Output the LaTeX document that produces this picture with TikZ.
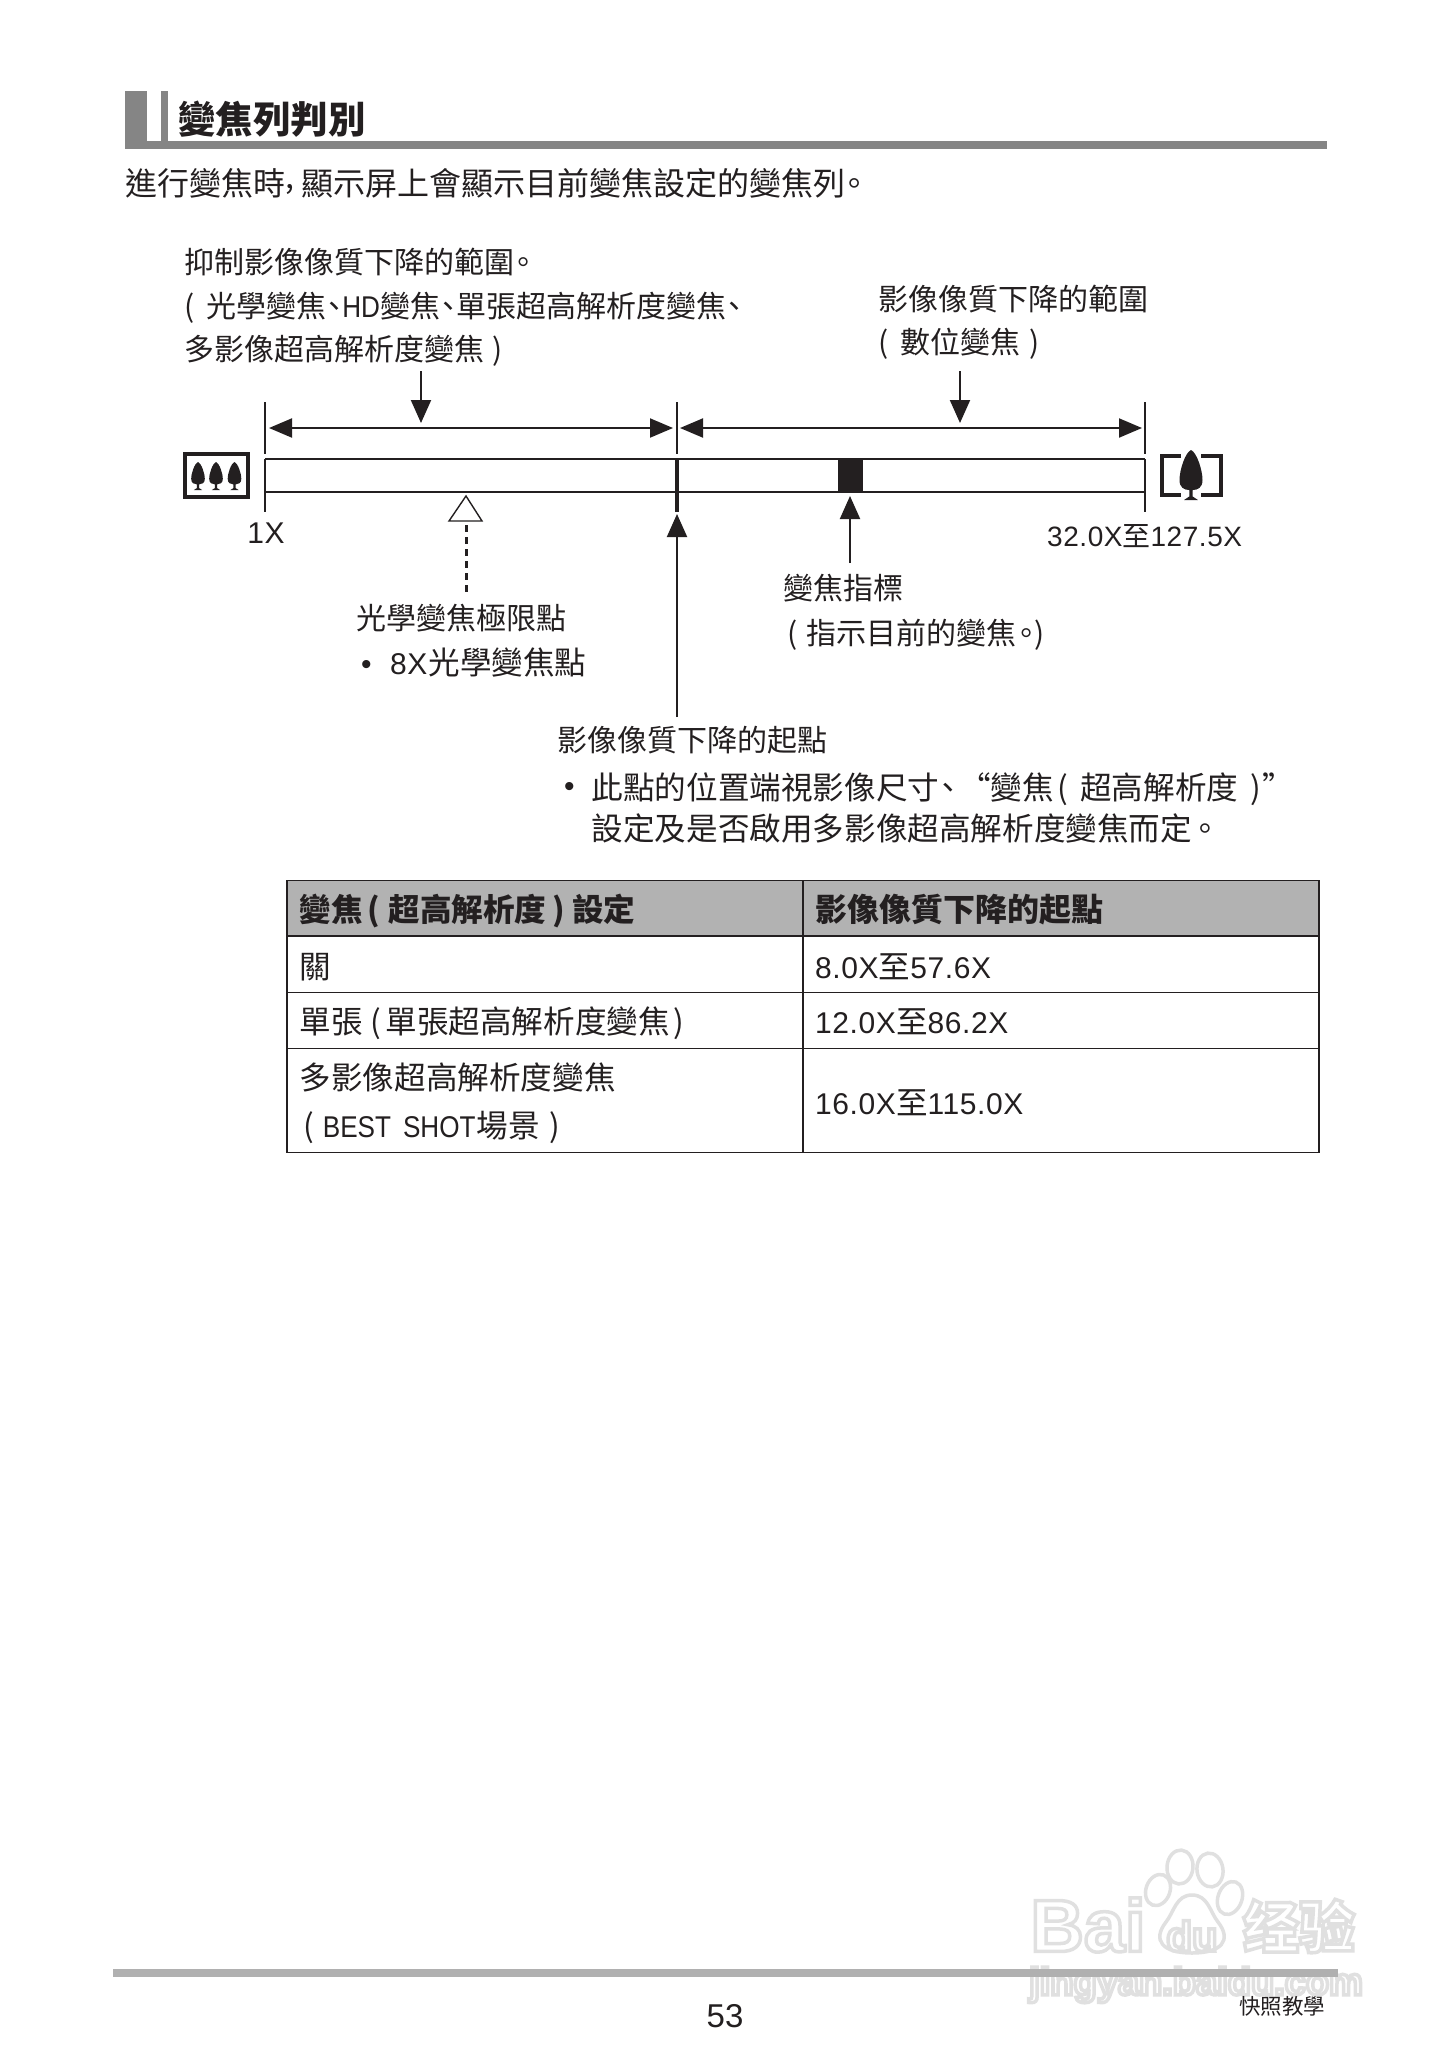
\documentclass[tikz,border=0pt]{standalone}
\usepackage{fontspec}
\usetikzlibrary{arrows.meta}
\setmainfont{Noto Sans CJK TC}
\newfontfamily\latinf{Liberation Sans}
\newcommand{\lat}[1]{{\latinf\addfontfeature{LetterSpace=2}\fontsize{30}{30}\selectfont #1}}
\newcommand{\latn}[1]{\scalebox{.87}[1]{\latinf\fontsize{30}{30}\selectfont #1}}
\newcommand{\dun}{\kern-7pt 、\kern-7pt }
\definecolor{barg}{HTML}{858585}
\definecolor{footg}{HTML}{B0B0B0}
\definecolor{headg}{HTML}{B2B2B2}
\definecolor{ink}{HTML}{231F20}
\newcommand{\treeshape}[4]{% cx, top, halfwidth, height
  \begin{scope}[shift={(#1,#2)},xscale=#3,yscale=#4]
  \fill[ink] (0,0) .. controls (.5,.05) and (1,.4) .. (1,.6) .. controls (1,.75) and (.6,.8) .. (.15,.8) -- (.15,.93) -- (.6,1) -- (-.6,1) -- (-.15,.93) -- (-.15,.8) .. controls (-.6,.8) and (-1,.75) .. (-1,.6) .. controls (-1,.4) and (-.5,.05) .. (0,0) -- cycle;
  \end{scope}}
\newcommand{\wmtxt}[5]{% name,x,y,font,text
  \node[anchor=center,inner sep=0,font=#4] (#1) at (#2,#3) {\special{pdf:code q 1 Tr 3.5 w 0.88 G}#5\special{pdf:code 0 Tr Q}};}
\tikzset{
  x=1pt,y=-1pt,
  lbl/.style={anchor=base west,inner sep=0,text=ink,font=\fontsize{30}{30}\selectfont},
  lblb/.style={anchor=base west,inner sep=0,text=ink,font=\fontsize{31.6}{31.6}\selectfont},
  dot/.style={anchor=base west,inner sep=0,text=ink,font=\latinf\fontsize{30}{30}\selectfont},
  body/.style={anchor=base west,inner sep=0,text=ink,font=\fontsize{32}{32}\selectfont},
  cellb/.style={anchor=base west,inner sep=0,text=ink,font=\fontsize{31.6}{31.6}\selectfont\bfseries},
  foot/.style={anchor=base west,inner sep=0,text=ink,font=\fontsize{21.5}{21.5}\selectfont},
  dim/.style={draw=ink,line width=2pt,{Triangle[length=23pt,width=19pt]}-{Triangle[length=23pt,width=19pt]}},
  point/.style={draw=ink,line width=2pt,-{Triangle[length=23pt,width=20pt]}},
  tick/.style={draw=ink,line width=1.6pt},
  tline/.style={draw=ink,line width=1.2pt},
  paw/.style={draw=black!12,line width=3.5pt,fill=white}
}
\begin{document}
\begin{tikzpicture}
\useasboundingbox (0,0) rectangle (1452,2064);
\fill[white] (0,0) rectangle (1452,2064);
% watermark
\foreach \cx/\cy/\rx/\ry/\r in {1158/1890/12/16/-20,1180/1867/13/17/-5,1210/1870/13/17/8,1230/1898/12/17/-20}
  \draw[paw,rotate around={\r:(\cx,\cy)}] (\cx,\cy) ellipse ({\rx pt} and {\ry pt});
\draw[paw] (1192,1895) .. controls (1208,1895) and (1210,1912) .. (1218,1922) .. controls (1232,1940) and (1222,1953) .. (1192,1953) .. controls (1162,1953) and (1152,1940) .. (1166,1922) .. controls (1174,1912) and (1176,1895) .. (1192,1895) -- cycle;
\wmtxt{wa}{1088}{1925}{\latinf\bfseries\fontsize{74}{74}\selectfont}{Bai}
\wmtxt{wb}{1192}{1936}{\latinf\bfseries\fontsize{42}{42}\selectfont}{du}
\wmtxt{wc}{1299}{1926}{\bfseries\fontsize{56}{56}\selectfont}{经验}
\wmtxt{wd}{1196}{1985}{\latinf\bfseries\fontsize{38}{38}\selectfont}{jingyan.baidu.com}
% heading
\fill[barg] (124.6,91) rectangle (147,149);
\fill[barg] (161,91) rectangle (168,149);
\fill[barg] (124.6,141) rectangle (1327,149);
\node[anchor=base west,inner sep=0,text=ink,font=\fontsize{37.5}{37.5}\selectfont\bfseries] (title) at (178,133) {變焦列判別};
\node[body] (intro) at (125,195) {進行變焦時\raisebox{7pt}{,}\hspace{7pt}顯示屏上會顯示目前變焦設定的變焦列\kern-7pt 。};
% upper labels
\node[lbl] (l1) at (184,273) {抑制影像像質下降的範圍\kern-6pt 。};
\node[lbl] (l2) at (184,317) {(\hspace{12pt}光學變焦\dun\latn{HD}變焦\dun 單張超高解析度變焦\dun};
\node[lbl] (l3) at (184,360) {多影像超高解析度變焦\hspace{2pt} )};
\node[lbl] (r1) at (878,310) {影像像質下降的範圍};
\node[lbl] (r2) at (878,353) {(\hspace{12pt}數位變焦\hspace{2pt} )};
% scale
\coordinate (a0) at (265,428); \coordinate (a1) at (677,428); \coordinate (a2) at (1145,428);
\draw[tick] (265,402) -- (265,454);
\draw[tick] (677,402) -- (677,454);
\draw[tick] (1145,402) -- (1145,454);
\draw[tick] (265,459) -- (265,512);
\draw[tick] (1145,459) -- (1145,512);
\draw[draw=ink,line width=2.4pt] (265,459) -- (1145,459) (265,492) -- (1145,492);
\draw[draw=ink,line width=3.6pt] (677,459) -- (677,512);
\fill[ink] (838,459) rectangle (863,492);
\draw[dim,shorten <=4pt,shorten >=4pt] (a0) -- (a1);
\draw[dim,shorten <=3pt,shorten >=3pt] (a1) -- (a2);
\coordinate (d1s) at (421,371); \coordinate (d1e) at (421,423);
\coordinate (d2s) at (960,371); \coordinate (d2e) at (960,423);
\draw[point] (d1s) -- (d1e);
\draw[point] (d2s) -- (d2e);
% icons
\draw[draw=ink,line width=4pt] (185,454) rectangle (248,497);
\treeshape{198}{462}{6.8}{28}
\treeshape{216}{462}{6.8}{28}
\treeshape{234.5}{462}{6.8}{28}
\draw[draw=ink,line width=3.6pt] (1181,456) -- (1162,456) -- (1162,495) -- (1181,495);
\draw[draw=ink,line width=3.6pt] (1201,456) -- (1221,456) -- (1221,495) -- (1201,495);
\treeshape{1191}{450}{11.5}{50}
% scale labels
\node[lbl,anchor=base] (x1) at (266,543) {\lat{1X}};
\node[lbl,font=\latinf\fontsize{28}{28}\selectfont] (x2) at (1047,546) {\addfontfeature{LetterSpace=2}32.0X{\normalfont\fontsize{28}{28}\selectfont 至}127.5X};
% optical limit
\coordinate (tri) at (466,496);
\draw[draw=ink,line width=1.4pt,fill=white] (tri) -- (482,521) -- (449,521) -- cycle;
\coordinate (ds) at (466,525); \coordinate (de) at (466,593);
\draw[draw=ink,line width=3pt,dash pattern=on 7pt off 5pt] (ds) -- (de);
\node[lbl] (o1) at (356,629) {光學變焦極限點};
\node[dot] (ob) at (361,674) {•};
\node[lblb] (o2) at (390,674) {\lat{8X}\hspace{1pt}光學變焦點};
% indicator
\coordinate (i1) at (850,563); \coordinate (i2) at (850,496);
\draw[point] (i1) -- (i2);
\node[lbl] (z1) at (783,599) {變焦指標};
\node[lbl] (z2) at (787,644) {(\hspace{9pt}指示目前的變焦\kern-5pt 。\kern-7pt )};
% degrade start
\coordinate (s1) at (677,717); \coordinate (s2) at (677,514);
\draw[point] (s1) -- (s2);
\node[lbl] (q1) at (557,751) {影像像質下降的起點};
\node[dot] (qb) at (564,796) {•};
\node[lblb] (q2) at (591.5,799) {此點的位置端視影像尺寸\kern-7pt 、\kern-4pt “\kern-1pt 變焦\hspace{4pt}(\hspace{12pt}超高解析度\hspace{12pt})\kern1pt ”};
\node[lblb] (q3) at (591.5,840) {設定及是否啟用多影像超高解析度變焦而定\kern-3pt 。};
% table
\fill[headg] (287,880.5) rectangle (1319,936);
\draw[tline] (287,880.5) rectangle (1319,1152.5);
\draw[tline] (287,936) -- (1319,936) (287,992.5) -- (1319,992.5) (287,1048.5) -- (1319,1048.5) (803,880.5) -- (803,1152.5);
\node[cellb] (h1) at (299.5,921) {變焦\hspace{5pt}(\hspace{8pt}超高解析度\hspace{6pt})\hspace{7pt}設定};
\node[cellb,font=\fontsize{32}{32}\selectfont\bfseries] (h2) at (815,921) {影像像質下降的起點};
\node[lblb] (c1) at (299.5,978) {關};
\node[lblb] (c2) at (815,978) {\lat{8.0X}至\lat{57.6X}};
\node[lblb] (c3) at (299.5,1033) {單張\hspace{8pt}(\hspace{4pt}單張超高解析度變焦\kern4pt )};
\node[lblb] (c4) at (815,1033) {\lat{12.0X}至\lat{86.2X}};
\node[lblb] (c5) at (299.5,1089) {多影像超高解析度變焦};
\node[lblb] (c6) at (303,1137) {(\hspace{9pt}\latn{BEST}\hspace{12pt}\latn{SHOT}\hspace{1pt}場景\hspace{10pt})};
\node[lblb] (c7) at (815,1114) {\lat{16.0X}至\lat{115.0X}};
% footer
\fill[footg] (113,1969) rectangle (1338,1977);
\node[anchor=base,inner sep=0,text=ink,font=\latinf\fontsize{33}{33}\selectfont] (page) at (725,2027) {53};
\node[foot] (ft) at (1239,2014) {快照教學};
\end{tikzpicture}
\end{document}
